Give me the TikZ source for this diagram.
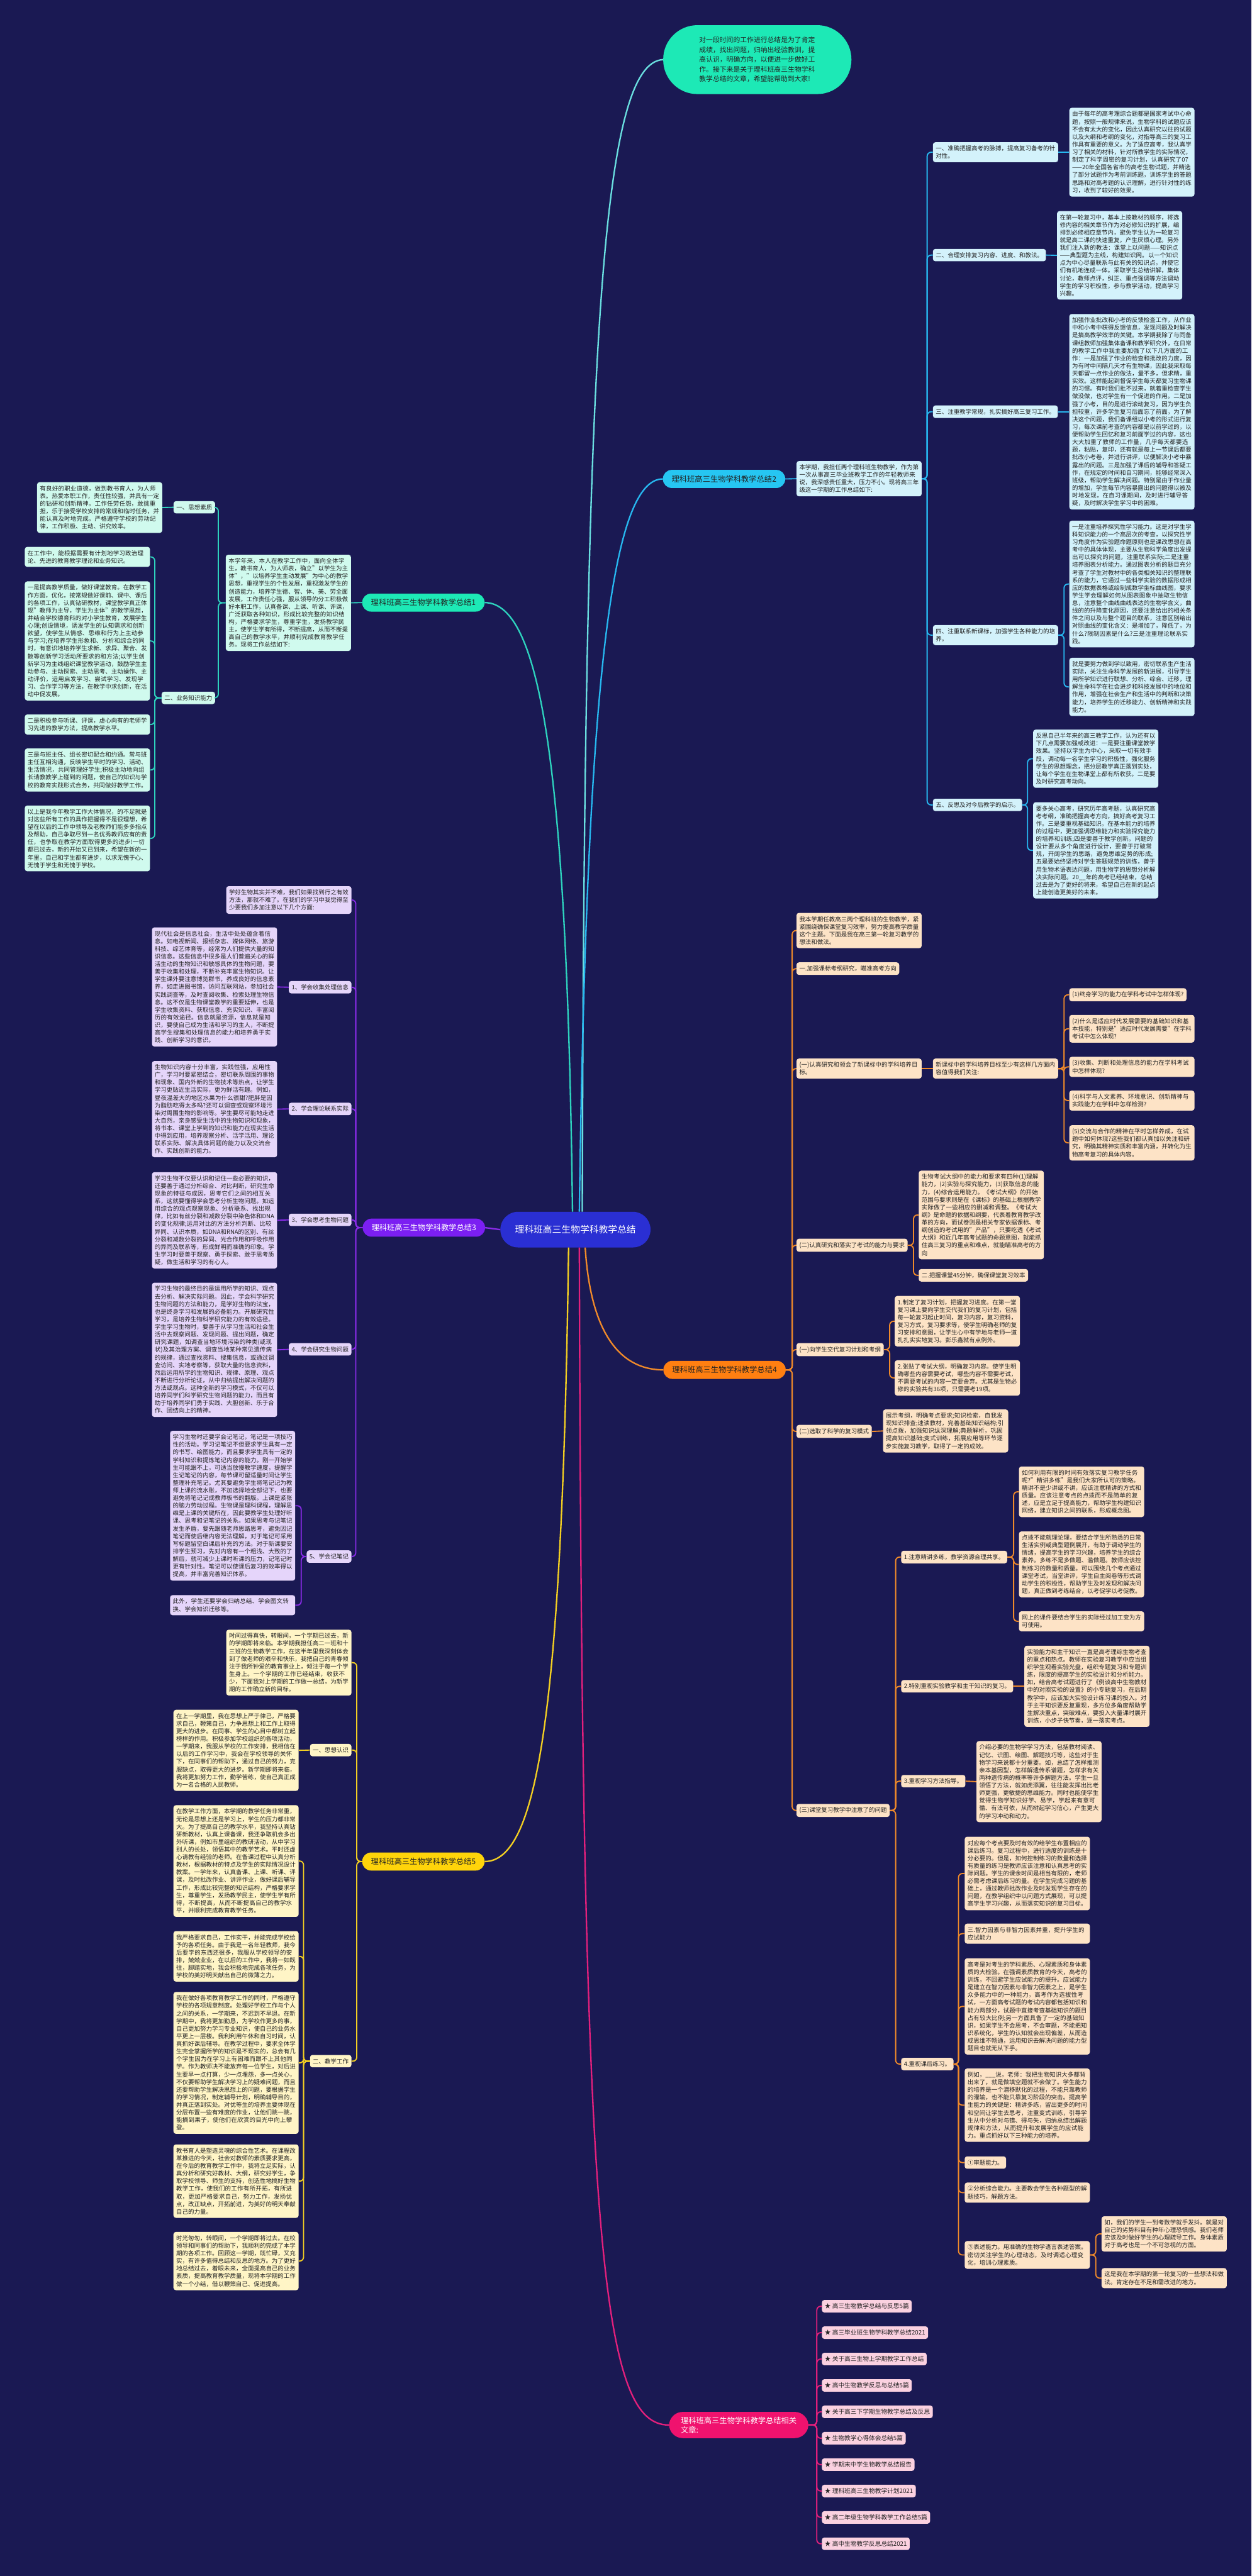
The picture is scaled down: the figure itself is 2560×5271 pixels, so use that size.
\documentclass[tikz,border=0pt]{standalone}
\usepackage{fontspec}
\setmainfont{Noto Sans CJK SC}
\XeTeXlinebreaklocale "zh"
\XeTeXlinebreakskip = 0pt plus 1pt
\definecolor{navy}{HTML}{1A1953}
\definecolor{inkdark}{HTML}{222222}
\definecolor{rootblue}{HTML}{2A2FD3}
\definecolor{mint}{HTML}{1DE9B6}
\definecolor{mintpale}{HTML}{D0FAEE}
\definecolor{mintline}{HTML}{2ED3BE}
\definecolor{leadline}{HTML}{6ADFE0}
\definecolor{skyblue}{HTML}{26C6F2}
\definecolor{skypale}{HTML}{D3F2FB}
\definecolor{skyline}{HTML}{27B8F0}
\definecolor{violet}{HTML}{7B1FF2}
\definecolor{violetpale}{HTML}{E5D5FA}
\definecolor{violetline}{HTML}{8A2BE8}
\definecolor{amber}{HTML}{FF7F11}
\definecolor{amberpale}{HTML}{FDE3C6}
\definecolor{amberline}{HTML}{F08A2A}
\definecolor{gold}{HTML}{FFD40A}
\definecolor{goldpale}{HTML}{FFF5C6}
\definecolor{goldline}{HTML}{F3CF22}
\definecolor{rose}{HTML}{F0126E}
\definecolor{rosepale}{HTML}{FBD1E0}
\definecolor{roseline}{HTML}{E3207C}
\tikzset{%
  root/.style  = {rectangle, rounded corners=36pt, fill=rootblue, text=white,%
                  minimum height=73pt, inner xsep=30pt,%
                  font=\fontsize{19}{23}\selectfont},%
  lead/.style  = {rectangle, rounded corners=70pt, fill=mint, text=inkdark,%
                  minimum width=385pt, minimum height=141pt,%
                  text width=237.5pt, align=left,%
                  font=\fontsize{13.9}{20}\selectfont},%
  topic/.style = {rectangle, rounded corners=18pt, minimum height=37pt,%
                  inner xsep=18pt, font=\fontsize{15.8}{19}\selectfont},%
  leaf/.style  = {rectangle, rounded corners=5pt, align=left, text=inkdark,%
                  inner xsep=5.75pt, inner ysep=7pt,%
                  font=\fontsize{12.2}{15.6}\selectfont},%
  para/.style  = {leaf, text width=244.5pt},%
  link/.style  = {line width=2.4pt, rounded corners=8pt},%
  stem/.style  = {line width=3pt}%
}
\begin{document}
\begin{tikzpicture}[x=1pt, y=-1pt]
  \useasboundingbox (0,0) rectangle (2560,5271);
  \fill[navy] (0,0) rectangle (2560,5271);
  % centre and lead text
  \node[root] (centre) at (1177,2516) {理科班高三生物学科教学总结};
  \node[lead] (lead) at (1549,122) {对一段时间的工作进行总结是为了肯定成绩，找出问题，归纳出经验教训，提高认识，明确方向，以便进一步做好工作。接下来是关于理科班高三生物学科教学总结的文章，希望能帮助到大家!};

  % branch 1
  \begin{scope}[leaf/.append style={fill=mintpale}, link/.append style={draw=mintline}]
    \node[topic, fill=mint, text=inkdark] (t1) at (866,1233) {理科班高三生物学科教学总结1};
    \node[para, anchor=east] (t1in) at (718,1233.5) {本学年来，本人在教学工作中，面向全体学生，教书育人，为人师表，确立"以学生为主体"，"以培养学生主动发展"为中心的教学思想，重视学生的个性发展，重视激发学生的创造能力，培养学生德、智、体、美、劳全面发展，工作责任心强，服从领导的分工积极做好本职工作，认真备课、上课、听课、评课，广泛获取各种知识，形成比较完整的知识结构，严格要求学生，尊重学生，发扬教学民主，使学生学有所得，不断提高，从而不断提高自己的教学水平，并顺利完成教育教学任务。现将工作总结如下:};
    \node[leaf, anchor=east] (t1a) at (440,1038) {一、思想素质};
    \node[para, anchor=east] (t1a1) at (332,1038.5) {有良好的职业道德，做到教书育人，为人师表。热爱本职工作，责任性较强，并具有一定的钻研和创新精神。工作任劳任怨，敢挑重担，乐于接受学校安排的常规和临时任务，并能认真及时地完成。严格遵守学校的劳动纪律，工作积极、主动、讲究效率。};
    \node[leaf, anchor=east] (t1b) at (440,1428) {二、业务知识能力};
    \node[para, anchor=east] (t1b1) at (307,1139.5) {在工作中，能根据需要有计划地学习政治理论、先进的教育教学理论和业务知识。};
    \node[para, anchor=east] (t1b2) at (307,1311.5) {一是提高教学质量，做好课堂教育。在教学工作方面，优化，按常规做好课前、课中、课后的各项工作，认真钻研教材，课堂教学真正体现"教师为主导，学生为主体"的教学思想，并结合学校德育科的对小学生教育，发展学生心理;创设情境，诱发学生的认知需求和创新欲望，使学生从情感、思维和行为上主动参与学习;在培养学生形象和、分析和综合的同时，有意识地培养学生求新、求异、聚合、发散等创新学习活动所要求的和方法;以学生创新学习为主线组织课堂教学活动，鼓励学生主动参与、主动探索、主动思考、主动操作、主动评价，运用启发学习、尝试学习、发现学习、合作学习等方法，在教学中求创新，在活动中促发展。};
    \node[para, anchor=east] (t1b3) at (307,1482.5) {二是积极参与听课、评课，虚心向有的老师学习先进的教学方法，提高教学水平。};
    \node[para, anchor=east] (t1b4) at (307,1575.5) {三是与班主任、组长密切配合和约通。常与班主任互相沟通，反映学生平时的学习、活动、生活情况，共同管理好学生;积极主动地向组长请教教学上碰到的问题，使自己的知识与学校的教育实践形式合务，共同做好教学工作。};
    \node[para, anchor=east] (t1b5) at (307,1715.5) {以上是我今年教学工作大体情况，的不足就是对这些所有工作的具作把握得不是很理想，希望在以后的工作中领导及老教师们能多多指点及帮助，自己争取尽到一名优秀教师应有的责任，也争取在教学方面取得更多的进步!一切都已过去，新的开始又已到来，希望在新的一年里，自己和学生都有进步，以求无愧于心、无愧于学生和无愧于学校。};
    \draw[link] (t1.west) -- (t1in.east);
    \foreach \kid in {t1a,t1b} \draw[link] (t1in.west) -- ++(-15,0) |- (\kid.east);
    \draw[link] (t1a.west) -- (t1a1.east);
    \foreach \kid in {t1b1,t1b2,t1b3,t1b4,t1b5} \draw[link] (t1b.west) -- ++(-14,0) |- (\kid.east);
  \end{scope}

  % branch 2
  \begin{scope}[leaf/.append style={fill=skypale}, link/.append style={draw=skyline}]
    \node[topic, fill=skyblue, text=inkdark] (t2) at (1481,980) {理科班高三生物学科教学总结2};
    \node[para, anchor=west] (t2in) at (1629,979.5) {本学期，我担任两个理科班生物教学，作为第一次从事高三毕业班教学工作的年轻教师来说，我深感责任重大，压力不小。现将高三年级这一学期的工作总结如下:};
    \node[para, anchor=west] (t2a) at (1908,311.5) {一、准确把握高考的脉搏，提高复习备考的针对性。};
    \node[para, anchor=west] (t2a1) at (2187,311.5) {由于每年的高考理综合题都是国家考试中心命题，按照一般规律来说，生物学科的试题应该不会有太大的变化，因此认真研究以往的试题以及大纲和考纲的变化，对指导高三的复习工作具有重要的意义。为了适应高考，我认真学习了相关的材料，针对所教学生的实际情况，制定了科学周密的复习计划，认真研究了07——20年全国各省市的高考生物试题，并精选了部分试题作为考前训练题，训练学生的答题思路和对高考题的认识理解，进行针对性的练习，收到了较好的效果。};
    \node[leaf, anchor=west] (t2b) at (1908,522) {二、合理安排复习内容、进度、和教法。};
    \node[para, anchor=west] (t2b1) at (2162,522.5) {在第一轮复习中，基本上按教材的顺序，将选修内容的相关章节作为对必修知识的扩展，编排到必修相应章节内，避免学生认为一轮复习就是高二课的快速重复，产生厌烦心理。另外我们注入新的教法：课堂上以问题——知识点——典型题为主线，构建知识网。以一个知识点为中心尽量联系与此有关的知识点，并使它们有机地连成一体。采取学生总结讲解，集体讨论，教师点评，纠正、重点强调等方法调动学生的学习积极性，参与教学活动，提高学习兴趣。};
    \node[leaf, anchor=west] (t2c) at (1908,842.5) {三、注重教学常规，扎实搞好高三复习工作。};
    \node[para, anchor=west] (t2c1) at (2187,842.5) {加强作业批改和小考的反馈检查工作，从作业中和小考中获得反馈信息，发现问题及时解决是搞高教学效率的关键。本学期我除了与同备课组教师加强集体备课和教学研究外，在日常的教学工作中我主要加强了以下几方面的工作：一是加强了作业的检查和批改的力度，因为有时中间隔几天才有生物课，因此我采取每天都留一点作业的做法，量不多，但求精，重实效。这样能起到督促学生每天都复习生物课的习惯。有时我们批不过来，就着重检查学生做没做，也对学生有一个促进的作用。二是加强了小考，目的是进行滚动复习，因为学生负担较重，许多学生复习后面忘了前面，为了解决这个问题，我们备课组以小考的形式进行复习，每次课前考查的内容都是以前学过的，以便帮助学生回忆和复习前面学过的内容，这也大大加重了教师的工作量，几乎每天都要选题，粘贴，复印，还有就是每上一节课后都要批改小考卷，并进行讲评，以便解决小考中暴露出的问题。三是加强了课后的辅导和答疑工作，在规定的时间和自习期间，能够经常深入班级，帮助学生解决问题。特别是由于作业量的增加，学生每节内容暴露出的问题得以被及时地发现，在自习课期间，及时进行辅导答疑，及时解决学生学习中的困难。};
    \node[para, anchor=west] (t2d) at (1908,1299.5) {四、注重联系新课标，加强学生各种能力的培养。};
    \node[para, anchor=west] (t2d1) at (2187,1195) {一是注重培养探究性学习能力。这是对学生学科知识能力的一个高层次的考查，以探究性学习角度作为实验题命题原则也是课改思想在高考中的具体体现，主要从生物科学角度出发提出可以探究的问题，注重联系实际;二是注重培养图表分析能力。通过图表分析的题目充分考查了学生对教材中的各类相关知识的整理联系的能力，它通过一些科学实验的数据形成相应的数据表格或绘制成数学坐标曲线图，要求学生学会理解如何从图表图象中抽取生物信息，注意整个曲线曲线表达的生物学含义，曲线的的升降变化原因，还要注意给出的相关条件之间以及与整个题目的联系，注意区别给出对照曲线的变化含义：是增加了，降低了，为什么?限制因素是什么?三是注重理论联系实践。};
    \node[para, anchor=west] (t2d2) at (2187,1405.5) {就是要努力做到学以致用，密切联系生产生活实际，关注生命科学发展的新进展，引导学生用所学知识进行联想、分析、综合、迁移，理解生命科学在社会进步和科技发展中的地位和作用，增强在社会生产和生活中的判断和决策能力，培养学生的迁移能力、创新精神和实践能力。};
    \node[leaf, anchor=west] (t2e) at (1908,1647) {五、反思及对今后教学的启示。};
    \node[para, anchor=west] (t2e1) at (2113,1552.5) {反思自己半年来的高三教学工作，认为还有以下几点需要加强或改进：一是要注重课堂教学效果。坚持以学生为中心，采取一切有效手段，调动每一名学生学习的积极性，强化服务学生的思想理念，把分层教学真正落到实处，让每个学生在生物课堂上都有所收获。二是要及时研究高考动向。};
    \node[para, anchor=west] (t2e2) at (2113,1740) {要多关心高考，研究历年高考题，认真研究高考考纲，准确把握高考方向，搞好高考复习工作。三是要重视基础知识。在基本能力的培养的过程中，更加强调思维能力和实验探究能力的培养和训练;四是要善于教学创新。问题的设计要从多个角度进行设计，要善于打破常规，开阔学生的思路，避免思维定势的形成;五是要始终坚持对学生答题规范的训练，善于用生物术语表达问题，用生物学的思想分析解决实际问题。20\_\_年的高考已经结束，总结过去是为了更好的将来，希望自己在新的起点上能创造更美好的未来。};
    \draw[link] (t2.east) -- (t2in.west);
    \foreach \kid in {t2a,t2b,t2c,t2d,t2e} \draw[link] (t2in.east) -- ++(11,0) |- (\kid.west);
    \draw[link] (t2a.east) -- (t2a1.west);
    \draw[link] (t2b.east) -- (t2b1.west);
    \draw[link] (t2c.east) -- (t2c1.west);
    \foreach \kid in {t2d1,t2d2} \draw[link] (t2d.east) -- ++(12,0) |- (\kid.west);
    \foreach \kid in {t2e1,t2e2} \draw[link] (t2e.east) -- ++(11,0) |- (\kid.west);
  \end{scope}

  % branch 3
  \begin{scope}[leaf/.append style={fill=violetpale}, link/.append style={draw=violetline}]
    \node[topic, fill=violet, text=white] (t3) at (867,2512) {理科班高三生物学科教学总结3};
    \node[para, anchor=east] (t3in) at (719,1841.5) {学好生物其实并不难，我们如果找到行之有效方法，那就不难了。在我们的学习中我觉得至少要我们多加注意以下几个方面:};
    \node[leaf, anchor=east] (t3a) at (719,2020) {1、学会收集处理信息};
    \node[para, anchor=east] (t3a1) at (567,2019.5) {现代社会是信息社会，生活中处处蕴含着信息。如电视新闻、报纸杂志、媒体网络、旅游科技、综艺体育等，经常为人们提供大量的知识信息。这些信息中很多是人们普遍关心的鲜活生动的生物知识和敏感具体的生物问题，要善于收集和处理，不断补充丰富生物知识。让学生课外要注意博览群书，养成良好的信息素养，如走进图书馆，访问互联网站，参加社会实践调查等，及时查阅收集、检索处理生物信息。这不仅是生物课堂教学的重要延伸，也是学生收集资料、获取信息、充实知识、丰富阅历的有效途径。信息就是资源，信息就是知识，要使自己成为生活和学习的主人，不断提高学生搜集和处理信息的能力和培养勇于实践、创新学习的意识。};
    \node[leaf, anchor=east] (t3b) at (719,2269) {2、学会理论联系实际};
    \node[para, anchor=east] (t3b1) at (567,2269.5) {生物知识内容十分丰富，实践性强，应用性广，学习时要紧密结合，密切联系周围的事物和现象、国内外新的生物技术等热点，让学生学习更贴近生活实际，更为鲜活有趣。例如，昼夜温差大的地区水果为什么很甜?肥胖是因为脂肪吃得太多吗?还可以调查或观察环境污染对周围生物的影响等。学生要尽可能地走进大自然，亲身感受生活中的生物知识和现象，将书本、课堂上学到的知识和能力在现实生活中得到应用，培养观察分析、活学活用、理论联系实际、解决具体问题的能力以及交流合作、实践创新的能力。};
    \node[leaf, anchor=east] (t3c) at (719,2496) {3、学会思考生物问题};
    \node[para, anchor=east] (t3c1) at (567,2497) {学习生物不仅要认识和记住一些必要的知识，还要善于通过分析综合、对比判断，研究生命现象的特征与成因，思考它们之间的相互关系，这就要懂得学会思考分析生物问题。如运用综合的观点观察现象、分析联系、找出规律，比如有丝分裂和减数分裂中染色体和DNA的变化规律;运用对比的方法分析判断、比较异同、认识本质，如DNA和RNA的区别、有丝分裂和减数分裂的异同、光合作用和呼吸作用的异同及联系等，形成鲜明而准确的印象。学生学习时要善于观察、勇于探索、敢于思考质疑，做生活和学习的有心人。};
    \node[leaf, anchor=east] (t3d) at (719,2761) {4、学会研究生物问题};
    \node[para, anchor=east] (t3d1) at (567,2762) {学习生物的最终目的是运用所学的知识、观点去分析、解决实际问题。因此，学会科学研究生物问题的方法和能力，是学好生物的法宝，也是终身学习和发展的必备能力。开展研究性学习，是培养生物科学研究能力的有效途径。学生学习生物时，要善于从学习生活和社会生活中去观察问题、发现问题、提出问题，确定研究课题，如调查当地环境污染的种类(或现状)及其治理方案、调查当地某种常见遗传病的规律，通过查找资料、搜集信息，或通过调查访问、实地考察等，获取大量的信息资料，然后运用所学的生物知识、规律、原理、观点不断进行分析论证，从中归纳提出解决问题的方法或观点。这种全新的学习模式，不仅可以培养同学们科学研究生物问题的能力，而且有助于培养同学们勇于实践、大胆创新、乐于合作、团结向上的精神。};
    \node[leaf, anchor=east] (t3e) at (719,3185) {5、学会记笔记};
    \node[para, anchor=east] (t3e1) at (604,3081) {学习生物时还要学会记笔记，笔记是一项技巧性的活动。学习记笔记不但要求学生具有一定的书写、绘图能力，而且要求学生具有一定的学科知识和提炼笔记内容的能力。刚一开始学生可能跟不上，可适当放慢教学速度，提醒学生记笔记的内容，每节课可留适量时间让学生整理补充笔记。尤其要避免学生将笔记记为教师上课的流水账，不加选择地全部记下，也要避免将笔记记成教师板书的翻版。上课是紧张的脑力劳动过程。生物课是理科课程，理解思维是上课的关键所在，因此要教学生处理好听课、思考和记笔记的关系。如果思考与记笔记发生矛盾，要先跟随老师思路思考，避免因记笔记而使后继内容无法理解，对于笔记可采用写标题留空白课后补充的方法。对于新课要安排学生预习，先对内容有一个粗浅、大致的了解后，就可减少上课时听课的压力，记笔记时更有针对性。笔记可以使课后复习的效率得以提高，并丰富完善知识体系。};
    \node[para, anchor=east] (t3e2) at (604,3284.5) {此外，学生还要学会归纳总结、学会图文转换、学会知识迁移等。};
    \foreach \kid in {t3in,t3a,t3b,t3c,t3d,t3e} \draw[link] (t3.west) -- ++(-14,0) |- (\kid.east);
    \draw[link] (t3a.west) -- (t3a1.east);
    \draw[link] (t3b.west) -- (t3b1.east);
    \draw[link] (t3c.west) -- (t3c1.east);
    \draw[link] (t3d.west) -- (t3d1.east);
    \foreach \kid in {t3e1,t3e2} \draw[link] (t3e.west) -- ++(-11,0) |- (\kid.east);
  \end{scope}

  % branch 4
  \begin{scope}[leaf/.append style={fill=amberpale}, link/.append style={draw=amberline}]
    \node[topic, fill=amber, text=inkdark] (t4) at (1482,2803) {理科班高三生物学科教学总结4};
    \node[para, anchor=west] (t4in) at (1629,1904) {我本学期任教高三两个理科班的生物教学，紧紧围绕确保课堂复习效率，努力提高教学质量这个主题。下面是我在高三第一轮复习教学的想法和做法。};
    \node[leaf, anchor=west] (t4a) at (1629,1982) {一.加强课标考纲研究，瞄准高考方向};
    \node[para, anchor=west] (t4b) at (1629,2186.5) {(一)认真研究和领会了新课标中的学科培养目标。};
    \node[para, anchor=west] (t4b1) at (1908,2186.5) {新课标中的学科培养目标至少有这样几方面内容值得我们关注:};
    \node[leaf, anchor=west] (q1) at (2187,2035.5) {(1)终身学习的能力在学科考试中怎样体现?};
    \node[para, anchor=west] (q2) at (2187,2105) {(2)什么是适应时代发展需要的基础知识和基本技能，特别是"适应时代发展需要"在学科考试中怎么体现?};
    \node[para, anchor=west] (q3) at (2187,2183) {(3)收集、判断和处理信息的能力在学科考试中怎样体现?};
    \node[para, anchor=west] (q4) at (2187,2252) {(4)科学与人文素养、环境意识、创新精神与实践能力在学科中怎样检测?};
    \node[para, anchor=west] (q5) at (2187,2338.5) {(5)交流与合作的精神在平时怎样养成，在试题中如何体现?这些我们都认真加以关注和研究，明确其精神实质和丰富内涵，并转化为生物高考复习的具体内容。};
    \node[leaf, anchor=west] (t4c) at (1629,2548) {(二)认真研究和落实了考试的能力与要求};
    \node[para, anchor=west] (t4c1) at (1879,2486) {生物考试大纲中的能力和要求有四种(1)理解能力，(2)实验与探究能力，(3)获取信息的能力，(4)综合运用能力。《考试大纲》的开始范围与要求则是在《课标》的基础上根据教学实际做了一些相应的删减和调整。《考试大纲》是命题的依据和纲要，代表着教育教学改革的方向，而试卷则是相关专家依据课标、考纲创造的考试用的"产品"，只要吃透《考试大纲》和近几年高考试题的命题意图，就能抓住高三复习的重点和难点，就能瞄准高考的方向};
    \node[leaf, anchor=west] (t4c2) at (1879,2609.5) {二.把握课堂45分钟，确保课堂复习效率};
    \node[leaf, anchor=west] (t4d) at (1629,2761.5) {(一)向学生交代复习计划和考纲};
    \node[para, anchor=west] (t4d1) at (1830,2703.5) {1.制定了复习计划，把握复习进度。在第一堂复习课上要向学生交代我们的复习计划，包括每一轮复习起止时间，复习内容，复习资料，复习方式，复习要求等，使学生明确老师的复习安排和意图，让学生心中有学地与老师一道扎扎实实地复习。彭乐鑫就有点例外。};
    \node[para, anchor=west] (t4d2) at (1830,2819.5) {2.张贴了考试大纲，明确复习内容。使学生明确哪些内容需要考试，哪些内容不需要考试，不需要考试的内容一定要舍弃。尤其是生物必修的实验共有36项，只需要考19项。};
    \node[leaf, anchor=west] (t4e) at (1629,2929) {(二)选取了科学的复习模式};
    \node[para, anchor=west] (t4e1) at (1806,2928) {展示考纲，明确考点要求;知识检索，自我发现知识排查;速读教材，完善基础知识结构;引领点拨，加强知识纵深理解;典题解析，巩固提高知识基础;变式训练，拓展应用等环节逐步实施复习教学，取得了一定的成效。};
    \node[leaf, anchor=west] (t4f) at (1629,3704.5) {(三)课堂复习教学中注意了的问题};
    \node[leaf, anchor=west] (p1) at (1843,3186) {1.注意精讲多练，教学资源合理共享。};
    \node[para, anchor=west] (p1a) at (2084,3052.5) {如何利用有限的时间有效落实复习教学任务呢?"精讲多练"是我们大家所认可的策略。精讲不是少讲或不讲，应该注意精讲的方式和质量。应该注意考点的点拨而不是简单的复述，应是立足于提高能力，帮助学生构建知识网络，建立知识之间的联系，形成概念图。};
    \node[para, anchor=west] (p1b) at (2084,3201) {点拨不能就理论理，要结合学生所熟悉的日常生活实例或典型题例展开，有助于调动学生的情绪，提高学生的学习兴趣，培养学生的综合素养。多练不是多做题、滥做题。教师应该控制练习的数量和质量。可以围绕几个考点通过课堂考试，当堂讲评，学生自主阅卷等形式调动学生的积极性，帮助学生及时发现和解决问题，真正做到考练结合，以考促学以考促教。};
    \node[para, anchor=west] (p1c) at (2084,3317.5) {网上的课件要结合学生的实际经过加工变为方可使用。};
    \node[leaf, anchor=west] (p2) at (1843,3450.5) {2.特别重视实验教学和主干知识的复习。};
    \node[para, anchor=west] (p2a) at (2095,3450.5) {实验能力和主干知识一直是高考理综生物考查的重点和热点。教师在实验复习教学中应当组织学生观看实验光盘，组织专题复习和专题训练，限度的提高学生的实验设计和分析能力。如，结合高考试题进行了《例谈高中生物教材中的对照实验的设置》的小专题复习，在后期教学中，应该加大实验设计练习课的投入。对于主干知识要反复重现，多方位多角度帮助学生解决重点，突破难点，要投入大量课时展开训练，小步子快节奏，逐一落实考点。};
    \node[leaf, anchor=west] (p3) at (1843,3644.5) {3.重视学习方法指导。};
    \node[para, anchor=west] (p3a) at (1997,3645.5) {介绍必要的生物学学习方法，包括教材阅读、记忆、识图、绘图、解题技巧等，这些对于生物学习来说都十分重要。如，总结了怎样推测亲本基因型，怎样解遗传系谱题，怎样求有关两种遗传病的概率等许多解题方法。学生一旦领悟了方法，就如虎添翼，往往能发挥出比老师更强，更敏捷的思维能力。同时也能使学生觉得生物学知识好学、易学，学起来有章可循、有法可依，从而树起学习信心，产生更大的学习冲动和动力。};
    \node[leaf, anchor=west] (p4) at (1843,4223.5) {4.重视课后练习。};
    \node[para, anchor=west] (p4a) at (1973,3833.5) {对应每个考点要及时有效的给学生布置相应的课后练习。复习过程中，进行适度的训练是十分必要的。但是，如何控制练习的数量和选择有质量的练习是教师应该注意和认真思考的实际问题。学生的课余时间是相当有限的，老师必需考虑课后练习的量。在学生完成习题的基础上，通过教师批改作业及时发现学生存在的问题，在教学组织中以问题方式展现，可以提高学生学习兴趣，从而落实知识的复习目标。};
    \node[para, anchor=west] (p4b) at (1973,3956.5) {三.智力因素与非智力因素并重，提升学生的应试能力};
    \node[para, anchor=west] (p4c) at (1973,4105.5) {高考是对考生的学科素质、心理素质和身体素质的大检验。在强调素质教育的今天，高考的训练，不回避学生应试能力的提升。应试能力是建立在智力因素与非智力因素之上，是学生众多能力中的一种能力，高考作为选拔性考试，一方面高考试题的考试内容都包括知识和能力两部分，试题中直接考查基础知识的题目占有较大比例;另一方面具备了一定的基础知识，如果学生不会思考，不会审题，不能把知识系统化，学生的认知就会出现偏差，从而造成思维不畅通，运用知识去解决问题的能力型题目也就无从下手。};
    \node[para, anchor=west] (p4d) at (1973,4307.5) {例如，\_\_\_说，老师：我把生物知识大多都背出来了，就是做填空题就不会做了。学生能力的培养是一个潜移默化的过程，不能只靠教师的灌输，也不能只靠复习阶段的突击。提高学生能力的关键是：精讲多练，留出更多的时间和空间让学生去思考，注重变式训练，引导学生从中分析对与错、得与失，归纳总结出解题规律和方法，从而提升和发展学生的应试能力。重点抓好以下三种能力的培养。};
    \node[leaf, anchor=west] (p4e) at (1973,4425) {①审题能力。};
    \node[para, anchor=west] (p4f) at (1973,4486.5) {②分析综合能力。主要教会学生各种题型的解题技巧，解题方法。};
    \node[para, anchor=west] (p4g) at (1973,4614) {③表述能力。用准确的生物学语言表述答案。密切关注学生的心理动态，及时调适心理变化，培训心理素质。};
    \node[para, anchor=west] (p4g1) at (2253,4571) {如，我们的学生一到考数学就手发抖。就是对自己的劣势科目有种年心理恐惧感。我们老师应该及时做好学生的心理疏导工作。身体素质对于高考也是一个不可忽视的方面。};
    \node[para, anchor=west] (p4g2) at (2253,4661.5) {这是我在本学期的第一轮复习的一些想法和做法。肯定存在不足和需改进的地方。};
    \foreach \kid in {t4in,t4a,t4b,t4c,t4d,t4e,t4f} \draw[link] (t4.east) -- ++(13,0) |- (\kid.west);
    \draw[link] (t4b.east) -- (t4b1.west);
    \foreach \kid in {q1,q2,q3,q4,q5} \draw[link] (t4b1.east) -- ++(12,0) |- (\kid.west);
    \foreach \kid in {t4c1,t4c2} \draw[link] (t4c.east) -- ++(12,0) |- (\kid.west);
    \foreach \kid in {t4d1,t4d2} \draw[link] (t4d.east) -- ++(12,0) |- (\kid.west);
    \draw[link] (t4e.east) -- (t4e1.west);
    \foreach \kid in {p1,p2,p3,p4} \draw[link] (t4f.east) -- ++(12,0) |- (\kid.west);
    \foreach \kid in {p1a,p1b,p1c} \draw[link] (p1.east) -- ++(13,0) |- (\kid.west);
    \draw[link] (p2.east) -- (p2a.west);
    \draw[link] (p3.east) -- (p3a.west);
    \foreach \kid in {p4a,p4b,p4c,p4d,p4e,p4f,p4g} \draw[link] (p4.east) -- ++(10,0) |- (\kid.west);
    \foreach \kid in {p4g1,p4g2} \draw[link] (p4g.east) -- ++(12,0) |- (\kid.west);
  \end{scope}

  % branch 5
  \begin{scope}[leaf/.append style={fill=goldpale}, link/.append style={draw=goldline}]
    \node[topic, fill=gold, text=inkdark] (t5) at (866,3809) {理科班高三生物学科教学总结5};
    \node[para, anchor=east] (t5in) at (719,3402) {时间过得真快，转眼间，一个学期已过去，新的学期即将来临。本学期我担任高二一班和十三班的生物教学工作，在这半年里我深刻体会到了做老师的艰辛和快乐，我把自己的青春倾注于我所钟爱的教育事业上，倾注于每一个学生身上。一个学期的工作已经结束，收获不少，下面我对上学期的工作做一总结，为新学期的工作确立新的目标。};
    \node[leaf, anchor=east] (t5a) at (719,3581) {一、思想认识};
    \node[para, anchor=east] (t5a1) at (611,3581.5) {在上一学期里，我在思想上严于律己，严格要求自己，鞭策自己，力争思想上和工作上取得更大的进步。在同事、学生的心目中都树立起榜样的作用。积极参加学校组织的各项活动，一学期来，我服从学校的工作安排，我相信在以后的工作学习中，我会在学校领导的关怀下，在同事们的帮助下，通过自己的努力，克服缺点，取得更大的进步。新学期即将来临，我将更加努力工作，勤学苦练，使自己真正成为一名合格的人民教师。};
    \node[leaf, anchor=east] (t5b) at (719,4217.5) {二、教学工作};
    \node[para, anchor=east] (t5b1) at (611,3808) {在教学工作方面，本学期的教学任务非常重，无论是思想上还是学习上，学生的压力都非常大。为了提高自己的教学水平，我坚持认真钻研新教材，认真上课备课，我还争取机会多出外听课，例如市里组织的教研活动，从中学习别人的长处，领悟其中的教学艺术。平时还虚心请教有经验的老师。在备课过程中认真分析教材，根据教材的特点及学生的实际情况设计教案。一学年来，认真备课、上课、听课、评课，及时批改作业、讲评作业，做好课后辅导工作，形成比较完整的知识结构，严格要求学生，尊重学生，发扬教学民主，使学生学有所得，不断提高，从而不断提高自己的教学水平，并顺利完成教育教学任务。};
    \node[para, anchor=east] (t5b2) at (611,4003) {我严格要求自己，工作实干，并能完成学校给予的各项任务。由于我是一名年轻教师，我今后要学的东西还很多，我服从学校领导的安排，兢兢业业，在以后的工作中，我将一如既往，脚踏实地，我会积极地完成各项任务，为学校的美好明天献出自己的微薄之力。};
    \node[para, anchor=east] (t5b3) at (611,4221) {我在做好各项教育教学工作的同时，严格遵守学校的各项规章制度。处理好学校工作与个人之间的关系，一学期来，不迟到不早退。在新学期中，我将更加勤恳，为学校作更多的事，自己更加努力学习专业知识，使自己的业务水平更上一层楼。我利利用午休和自习时间，认真抓好课后辅导。在教学过程中，要求全体学生完全掌握所学的知识是不现实的，总会有几个学生因为在学习上有困难而跟不上其他同学。作为教师决不能放弃每一位学生，对后进生要早一点打算，少一点埋怨，多一点关心，不仅要帮助学生解决学习上的疑难问题，而且还要帮助学生解决思想上的问题，要根据学生的学习情况，制定辅导计划，明确辅导目的，并真正落到实处。对优等生的培养主要体现在分层布置一些有难度的作业，让他们跳一跳，能摘到果子，使他们在欣赏的目光中向上攀登。};
    \node[para, anchor=east] (t5b4) at (611,4463) {教书育人是塑造灵魂的综合性艺术。在课程改革推进的今天，社会对教师的素质要求更高，在今后的教育教学工作中，我将立足实际，认真分析和研究好教材、大纲，研究好学生，争取学校领导、师生的支持，创造性地搞好生物教学工作，使我们的工作有所开拓，有所进取，更加严格要求自己，努力工作，发扬优点，改正缺点，开拓前进，为美好的明天奉献自己的力量。};
    \node[para, anchor=east] (t5b5) at (611,4626.5) {时光匆匆，转眼间，一个学期即将过去。在校领导和同事们的帮助下，我顺利的完成了本学期的各项工作。回顾这一学期，既忙碌，又充实，有许多值得总结和反思的地方。为了更好地总结过去，着眼未来，全面提高自己的业务素质，提高教育教学质量，现将本学期的工作做一个小结，借以鞭策自己、促进提高。};
    \foreach \kid in {t5in,t5a,t5b} \draw[link] (t5.west) -- ++(-11,0) |- (\kid.east);
    \draw[link] (t5a.west) -- (t5a1.east);
    \foreach \kid in {t5b1,t5b2,t5b3,t5b4,t5b5} \draw[link] (t5b.west) -- ++(-13,0) |- (\kid.east);
  \end{scope}

  % branch 6
  \begin{scope}[leaf/.append style={fill=rosepale, font=\fontsize{12.5}{15.6}\selectfont}, link/.append style={draw=roseline}]
    \node[topic, fill=rose, text=white, align=left, rounded corners=28pt, inner xsep=24pt, inner ysep=10pt] (t6) at (1511,4962) {理科班高三生物学科教学总结相关\\文章:};
    \foreach \i/\y/\txt in {1/4719/高三生物教学总结与反思5篇, 2/4773/高三毕业班生物学科教学总结2021,%
        3/4827/关于高三生物上学期教学工作总结, 4/4881/高中生物教学反思与总结5篇,%
        5/4935/关于高三下学期生物教学总结及反思, 6/4989/生物教学心得体会总结5篇,%
        7/5043/学期末中学生物教学总结报告, 8/5097/理科班高三生物教学计划2021,%
        9/5151/高二年级生物学科教学工作总结5篇, 10/5205/高中生物教学反思总结2021}
      \node[leaf, anchor=west] (r\i) at (1681,\y) {★ \txt};
    \foreach \i in {1,...,10} \draw[link] (t6.east) -- ++(17,0) |- (r\i.west);
  \end{scope}

  % main stems
  \draw[stem, leadline] ([xshift=14pt]centre.north) .. controls (1195,700) and (1230,128) .. (lead.west);
  \draw[stem, skyline] ([xshift=8pt]centre.north) .. controls (1200,1400) and (1250,980) .. (t2.west);
  \draw[stem, mintline] ([xshift=-6pt]centre.north) .. controls (1160,1600) and (1110,1233) .. (t1.east);
  \draw[stem, violetline] (centre.west) -- (t3.east);
  \draw[stem, amberline] ([xshift=20pt]centre.south) .. controls (1210,2760) and (1290,2803) .. (t4.west);
  \draw[stem, goldline] ([xshift=-14pt]centre.south) .. controls (1150,3500) and (1100,3809) .. (t5.east);
  \draw[stem, roseline] ([xshift=8pt]centre.south) .. controls (1190,4600) and (1230,4962) .. (t6.west);
\end{tikzpicture}
\end{document}
